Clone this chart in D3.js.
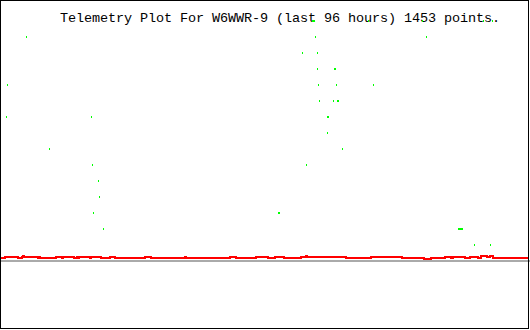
<!DOCTYPE html>
<html>
<head>
<meta charset="utf-8">
<script src="https://cdn.jsdelivr.net/npm/d3@7"></script>
<style>
  body { margin: 0; background: #fff; }
  svg { display: block; }
</style>
</head>
<body>
<div id="chart"></div>
<script>
// Title text
const title = "Telemetry Plot For W6WWR-9 (last 96 hours) 1453 points.";

// Red series: step line, [hour, raw value 0-255]
const redHours = [0, 0.91, 3.27, 4.0, 4.18, 4.36, 6.91, 7.09, 7.27, 10.18, 11.27, 11.45,
  13.45, 14.0, 14.18, 14.36, 16.36, 16.55, 18.36, 20.0, 20.91, 26.36, 27.45, 33.64, 33.82,
  41.82, 42.91, 46.55, 48.73, 50.0, 51.64, 54.73, 55.64, 55.82, 62.91, 67.45, 73.09, 77.09,
  78.36, 80.91, 82.0, 82.36, 84.55, 85.45, 86.91, 87.45, 88.55, 89.09, 89.64, 96];
const redValues = [3, 4, 3, 4, 5, 4, 3, 4, 3, 4, 3, 4,
  3, 4, 3, 4, 3, 4, 3, 4, 3, 4, 3, 4, 3,
  4, 3, 4, 3, 4, 3, 4, 5, 4, 3, 4, 3, 2,
  3, 4, 3, 4, 3, 4, 3, 5, 4, 5, 3, 3];

// Green series: scattered samples, [hour, raw value]
const greenHours = [1.27, 4.73, 1.09, 8.91, 16.55, 16.73, 17.82, 18.0, 16.91, 18.73,
  50.55, 50.73, 54.91, 55.64, 56.73, 56.91, 57.09, 57.27, 57.64, 57.64, 57.82, 58.0,
  59.45, 59.64, 59.45, 60.55, 60.73, 60.91, 61.09, 61.27, 61.45, 62.18, 66.91, 67.82,
  76.73, 77.45, 83.27, 83.45, 83.64, 83.82, 84.0, 86.18, 87.82, 89.09, 89.45];
const greenValues = [176, 224, 144, 112, 144, 96, 80, 64, 48, 32,
  48, 48, 208, 96, 240, 240, 240, 224, 208, 192, 176, 160,
  144, 144, 128, 160, 192, 192, 176, 160, 160, 112, 240, 176,
  240, 224, 32, 32, 32, 32, 32, 16, 240, 16, 240];

const width = 530, height = 330;

const x = d3.scaleLinear().domain([0, 96]).range([0, 528]);
const y = d3.scaleLinear().domain([0, 256]).range([261, 5]);

const svg = d3.select("#chart")
  .append("svg")
  .attr("width", width)
  .attr("height", height);

svg.append("rect")
  .attr("width", width)
  .attr("height", height)
  .attr("fill", "#fff");

// title (drawn first so the top dots show through)
svg.append("text")
  .attr("x", 60)
  .attr("y", 22)
  .attr("font-family", "'Liberation Mono', 'DejaVu Sans Mono', monospace")
  .attr("font-size", 13.5)
  .attr("textLength", 440)
  .attr("lengthAdjust", "spacing")
  .attr("fill", "#000")
  .text(title);

// grey zero line
svg.append("line")
  .attr("x1", 0)
  .attr("x2", width)
  .attr("y1", y(0))
  .attr("y2", y(0))
  .attr("stroke", "#aaaaaa")
  .attr("stroke-width", 2)
  .attr("shape-rendering", "crispEdges");

// red step line
const redData = redHours.map((h, i) => ({ h, v: redValues[i] }));
const line = d3.line()
  .x((d) => x(d.h))
  .y((d) => y(d.v))
  .curve(d3.curveStepAfter);

svg.append("path")
  .datum(redData)
  .attr("d", line)
  .attr("fill", "none")
  .attr("stroke", "#ff0000")
  .attr("stroke-width", 2)
  .attr("shape-rendering", "crispEdges");

// green dots
const greenData = greenHours.map((h, i) => ({ h, v: greenValues[i] }));
svg.append("g")
  .selectAll("rect")
  .data(greenData)
  .join("rect")
  .attr("x", (d) => Math.round(x(d.h)))
  .attr("y", (d) => y(d.v) - 1)
  .attr("width", 1)
  .attr("height", 2)
  .attr("fill", "#00ff00")
  .attr("shape-rendering", "crispEdges");

// frame
svg.append("rect")
  .attr("x", 0.5)
  .attr("y", 0.5)
  .attr("width", 528)
  .attr("height", 328)
  .attr("fill", "none")
  .attr("stroke", "#000")
  .attr("stroke-width", 1)
  .attr("shape-rendering", "crispEdges");
</script>
</body>
</html>
